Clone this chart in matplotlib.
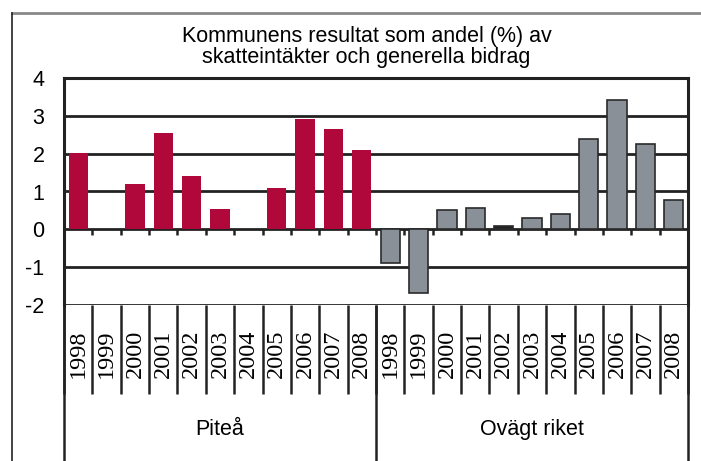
import matplotlib.pyplot as plt
import numpy as np
from matplotlib.transforms import blended_transform_factory

# data
years = ["1998", "1999", "2000", "2001", "2002", "2003",
         "2004", "2005", "2006", "2007", "2008"]
groups = ["Piteå", "Ovägt riket"]
pitea = [2.02, 0.0, 1.21, 2.54, 1.42, 0.53, 0.0, 1.1, 2.91, 2.65, 2.1]
riket = [-0.89, -1.69, 0.52, 0.57, 0.1, 0.3, 0.41, 2.39, 3.41, 2.25, 0.78]
yticks = [-2, -1, 0, 1, 2, 3, 4]

red = "#b0083a"
grey = "#8a9097"

fig = plt.figure(figsize=(7.01, 4.61), dpi=100)
ax = fig.add_axes([64/701, 1-305/461, 624/701, 227/461])

n = len(years)
x1 = np.arange(n) + 0.5
x2 = np.arange(n) + n + 0.5
ax.bar(x1, pitea, width=0.68, color=red, zorder=3)
colors2 = [grey]*n
colors2[4] = "#222222"
ax.bar(x2, riket, width=0.68, color=colors2, edgecolor="#2a2a2a",
       linewidth=1.2, zorder=3)

ax.set_xlim(0, 2*n)
ax.set_ylim(-2, 4)
ax.set_yticks(yticks)
ax.set_yticklabels([str(v) for v in yticks], fontsize=15.5,
                   family="Liberation Sans")
ax.tick_params(axis="y", length=0, pad=14)
ax.set_xticks([])
ax.yaxis.grid(True, color="#222222", linewidth=2)
ax.set_axisbelow(True)
for s in ["left", "right", "top"]:
    ax.spines[s].set_linewidth(2.2)
    ax.spines[s].set_color("#222222")
ax.spines["bottom"].set_visible(False)

# ticks at zero line
bounds = np.arange(1, 2*n)
ax.vlines(bounds, -0.14, 0, color="#222222", linewidth=1.8, zorder=4)

# multi-level category axis below the plot
tr = blended_transform_factory(ax.transData, ax.transAxes)
ax.vlines(np.arange(0, 2*n + 1), -0.39, 0, transform=tr, color="#222222",
          linewidth=1.8, clip_on=False)
ax.vlines([0, n, 2*n], -0.8, 0, transform=tr, color="#222222",
          linewidth=1.8, clip_on=False)
for xs in (x1, x2):
    for xi, lab in zip(xs, years):
        ax.text(xi, -0.215, lab, transform=tr, rotation=90, ha="center",
                va="center", fontsize=17.5, family="Liberation Serif")
for i, g in enumerate(groups):
    ax.text(n*i + n/2, -0.55, g, transform=tr, ha="center", va="center",
            fontsize=15.5, family="Liberation Sans")

fig.text(0.523, 1-47/461, "Kommunens resultat som andel (%) av\nskatteintäkter och generella bidrag",
         ha="center", va="center", fontsize=15.5, family="Liberation Sans",
         linespacing=1.0)

# outer frame
fig.add_artist(plt.Line2D([12/701, 1], [1-13/461, 1-13/461], color="#888888",
                          linewidth=2, transform=fig.transFigure))
fig.add_artist(plt.Line2D([12/701, 12/701], [0, 1-13/461], color="#222222",
                          linewidth=1.2, transform=fig.transFigure))

plt.savefig("out.png", dpi=100)
